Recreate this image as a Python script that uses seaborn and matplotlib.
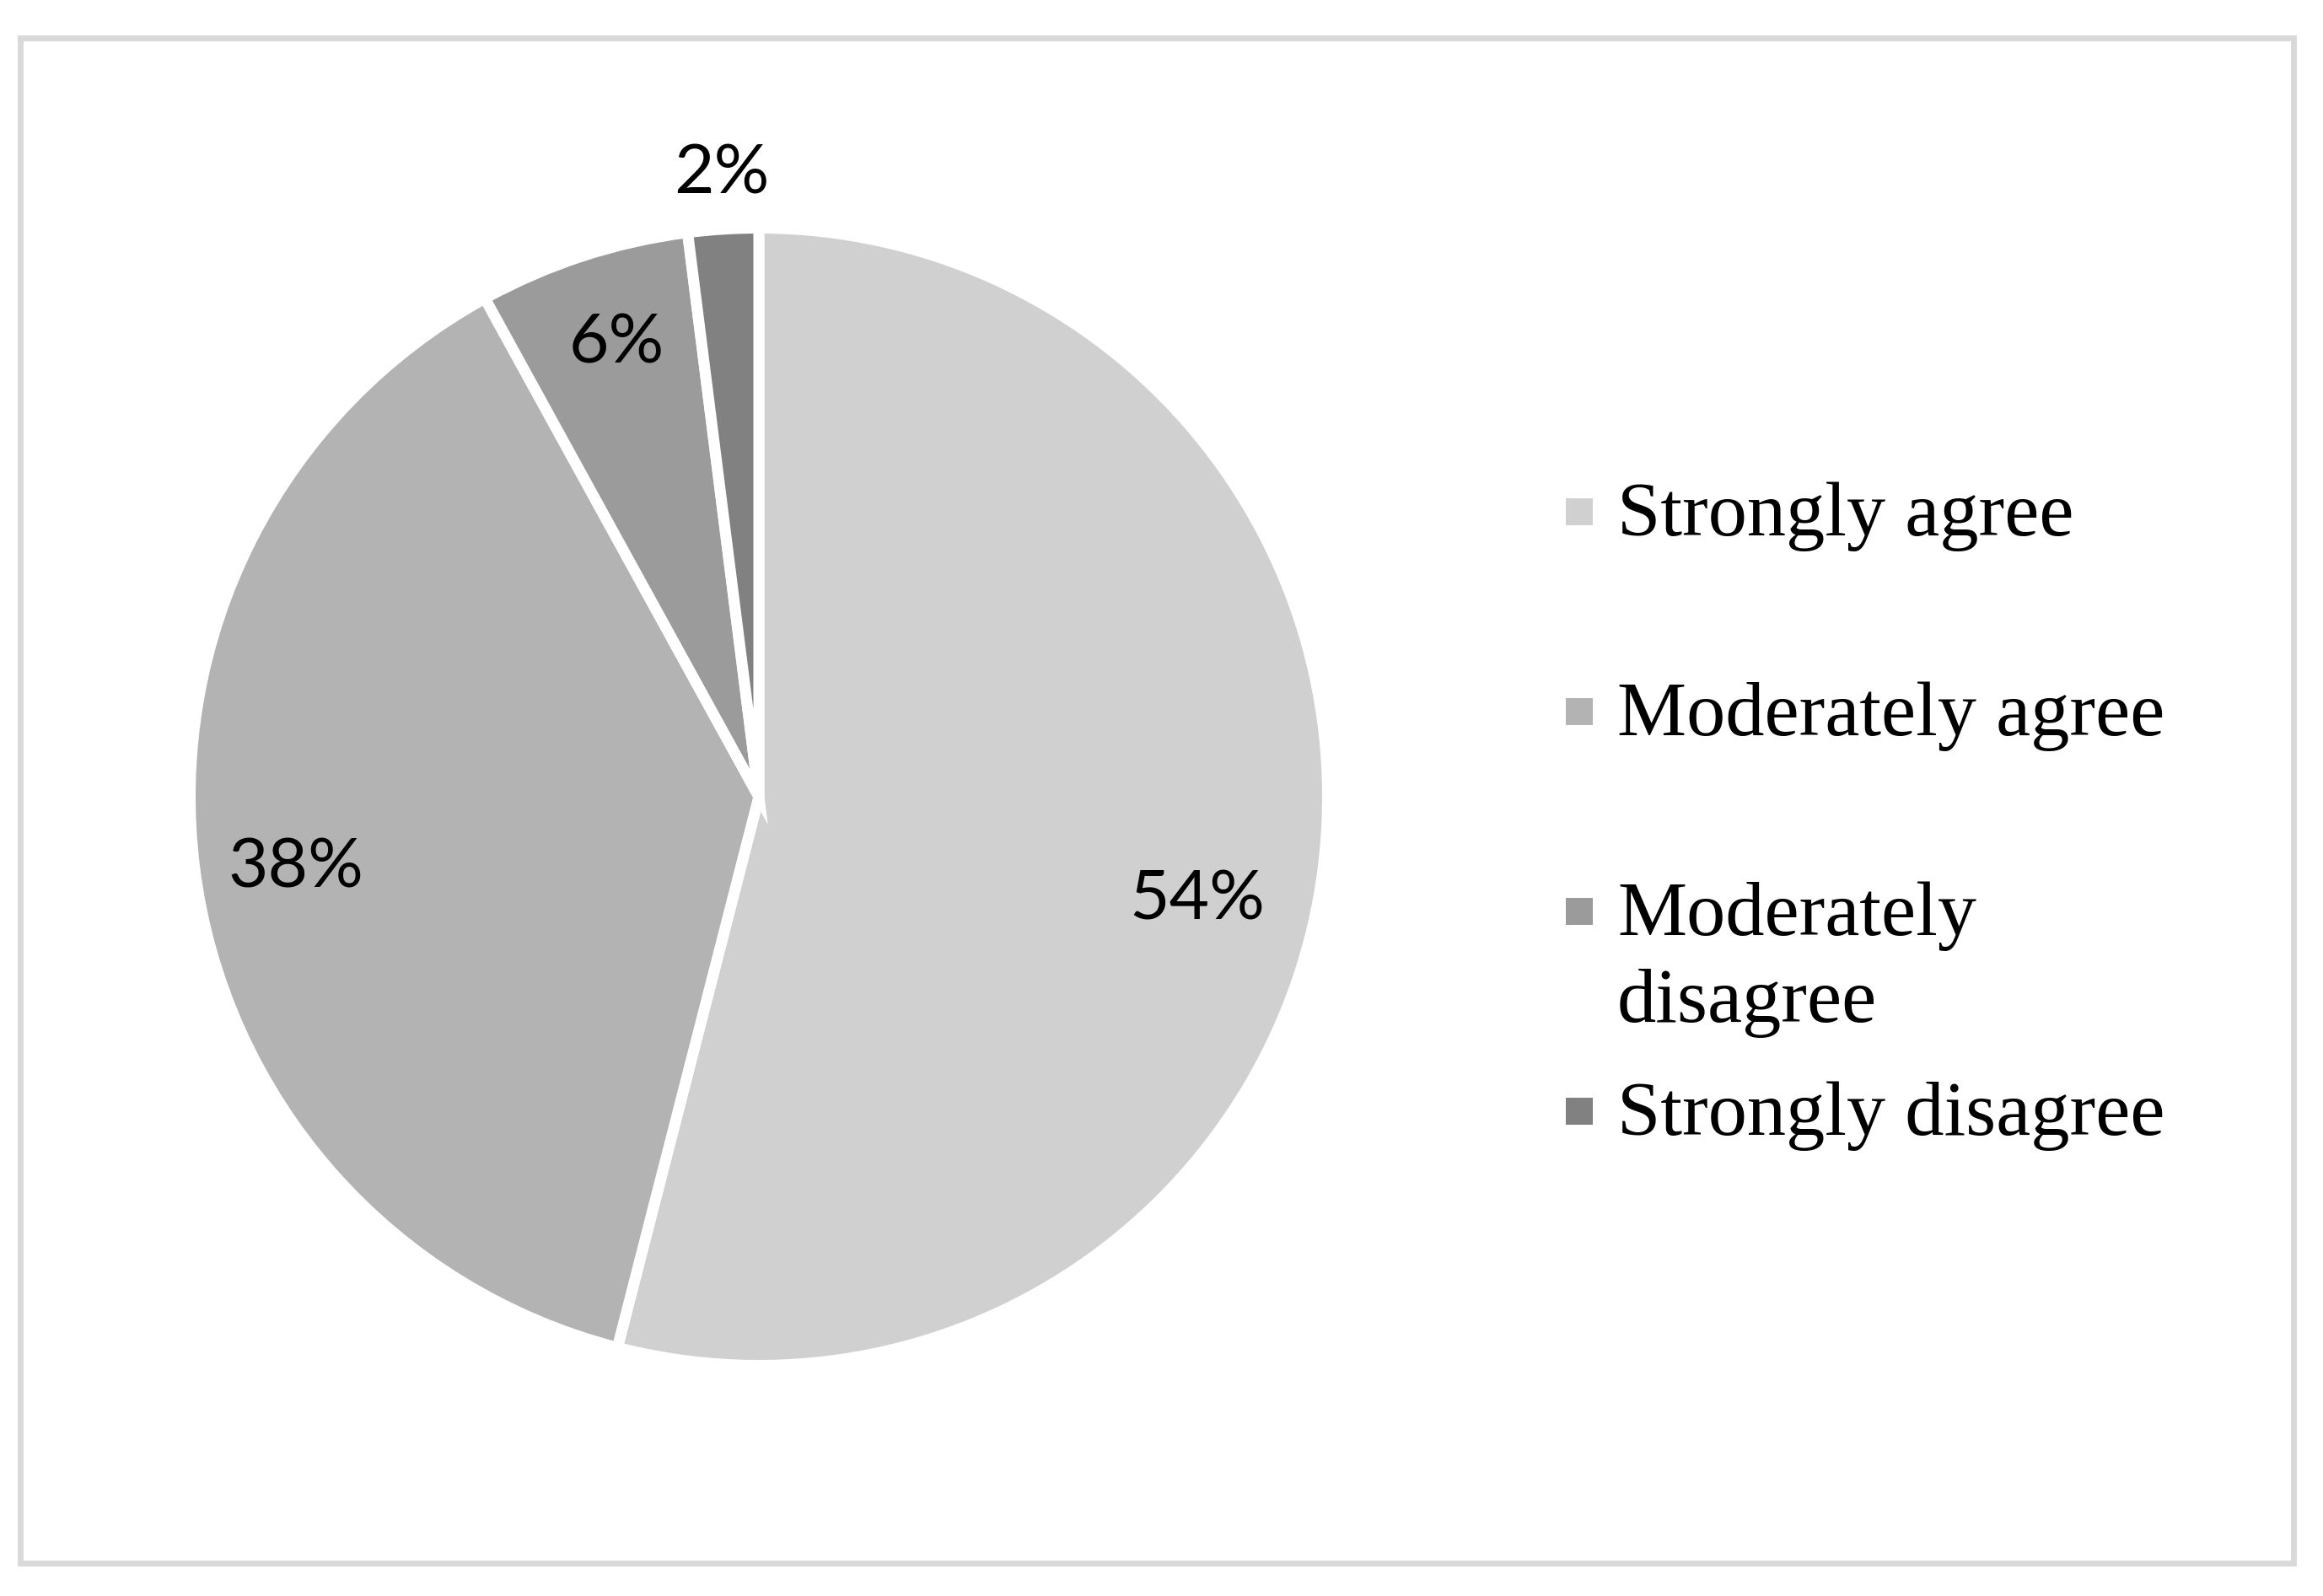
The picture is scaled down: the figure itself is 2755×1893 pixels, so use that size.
import matplotlib
matplotlib.use("Agg")
import matplotlib.pyplot as plt
from matplotlib.patches import Rectangle
import seaborn as sns

# ---- data ----
categories = ["Strongly agree", "Moderately agree", "Moderately\ndisagree", "Strongly disagree"]
values = [54, 38, 6, 2]
pct_labels = ["54%", "38%", "6%", "2%"]
colors = ["#d0d0d0", "#b3b3b3", "#9b9b9b", "#818181"]

sns.set_theme(style="white")

W, H = 2755, 1893
fig = plt.figure(figsize=(W / 100, H / 100), dpi=100)
fig.patch.set_facecolor("white")

# pie axes: centre (900, 945) px, radius ~668 px
cx, cy, r = 900, 945, 668
ax = fig.add_axes([(cx - r) / W, (H - cy - r) / H, 2 * r / W, 2 * r / H])

lw_pt = 9.4
ax.pie(values, colors=colors, startangle=90, counterclock=False,
       radius=1 + (lw_pt / 72 * 100 / 2) / r,
       wedgeprops=dict(edgecolor="white", linewidth=lw_pt))
# pie() resets the limits to +-1.25, put them back
ax.set_xlim(-1, 1)
ax.set_ylim(-1, 1)
ax.set_aspect("equal")
ax.axis("off")

# percent labels (positions tuned to the reference, data units of radius 1)
label_pos = [(0.778, -0.184), (-0.822, -0.127), (-0.253, 0.804), (-0.066, 1.105)]
for txt, (x, y) in zip(pct_labels, label_pos):
    ax.text(x, y, txt, ha="center", va="center", fontsize=59,
            family="Lato", color="black", clip_on=False)

# legend drawn by hand so the two-line entry keeps its marker on the first line
base0, step, line_gap = 635, 237, 103
for i, (lab, col) in enumerate(zip(categories, colors)):
    yb = base0 + step * i
    fig.add_artist(Rectangle((1857 / W, (H - (yb - 28) - 16) / H), 32 / W, 32 / H,
                             transform=fig.transFigure, facecolor=col, edgecolor="none"))
    for j, line in enumerate(lab.split("\n")):
        fig.text(1918 / W, (H - yb - j * line_gap) / H, line, ha="left", va="baseline",
                 fontsize=66.5, family="Liberation Serif", color="black")

# outer light-grey frame
fig.add_artist(Rectangle((23.5 / W, (H - 1853.5) / H), (2720 - 23.5) / W, (1853.5 - 44.5) / H,
                         transform=fig.transFigure, facecolor="none",
                         edgecolor="#d9d9d9", linewidth=5))

fig.savefig("out.png", dpi=100)
